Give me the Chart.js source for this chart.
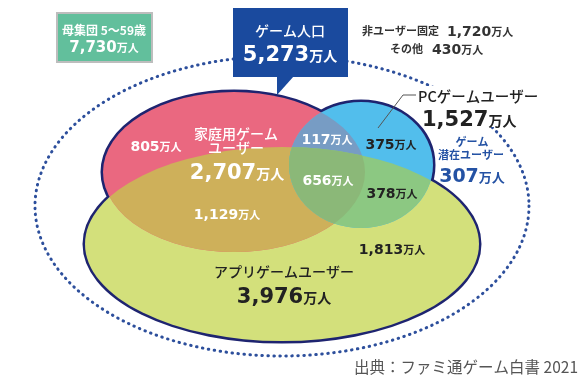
<!DOCTYPE html>
<html><head><meta charset="utf-8">
<script src="https://cdn.jsdelivr.net/npm/chart.js@4/dist/chart.umd.min.js"></script>
<style>html,body{margin:0;padding:0;background:#fff;overflow:hidden}#wrap{width:586px;height:375px}</style>
</head><body><div id="wrap"><canvas id="c" width="586" height="375"></canvas></div>
<script>
// ---- data ----
const categories = ['家庭用ゲームユーザー', 'PCゲームユーザー', 'アプリゲームユーザー'];
const setTotals = [2707, 1527, 3976];
const regionNames = ['家庭用のみ', '家庭用∩PC', 'PCのみ', '3種すべて', 'PC∩アプリ', '家庭用∩アプリ', 'アプリのみ'];
const regionValues = [805, 117, 375, 656, 378, 1129, 1813];
const populationLabel = '母集団 5～59歳';
const populationTotal = 7730;
const gamePopulationLabel = 'ゲーム人口';
const gamePopulation = 5273;
const nonUserLabels = ['非ユーザー固定', 'その他'];
const nonUserValues = [1720, 430];
const potentialLabels = ['ゲーム', '潜在ユーザー'];
const potentialValue = 307;
const unitLabel = '万人';
const sourceText = '出典：ファミ通ゲーム白書 2021';

// ---- layout (value space of hidden linear scales) ----
const L = {
  outer: {cx: 282, cy: 206, rx: 247, ry: 150},
  sets: [
    {cx: 234, cy: 172, rx: 131, ry: 80},   // home console
    {cx: 361, cy: 165, rx: 72, ry: 63},    // PC
    {cx: 282, cy: 244, rx: 197, ry: 97}    // app
  ],
  regionPos: [[156,146],[327,139],[391,144],[328,180],[392,193],[227,214],[392,249]],
  regionDark: [false,false,true,false,true,false,true]
};
const COL = {
  pink: '#EA6880', yellow: '#D3E07B', blue: '#52BEEC',
  py: '#CEB05A', pb: '#779CC4', by: '#8CC882', pby: '#8BB878',
  outline: '#1E2470', dotted: '#2D4F9C', navy: '#1A4A9E', green: '#62BF9C',
  dark: '#222222', pot: '#2452A4'
};
const NUM = '"DejaVu Sans", sans-serif';
const JP = '"Noto Sans CJK JP", "Noto Sans", sans-serif';
const fmt = v => v.toLocaleString('en-US');

const vennPlugin = {
  id: 'venn',
  afterDraw(chart) {
    const ctx = chart.ctx, xs = chart.scales.x, ys = chart.scales.y;
    const X = v => xs.getPixelForValue(v), Y = v => ys.getPixelForValue(v);
    const E = e => ({x: X(e.cx), y: Y(e.cy), rx: Math.abs(X(e.cx + e.rx) - X(e.cx)), ry: Math.abs(Y(e.cy + e.ry) - Y(e.cy))});
    const path = e => { const p = E(e); ctx.beginPath(); ctx.ellipse(p.x, p.y, p.rx, p.ry, 0, 0, Math.PI * 2); };
    const fillClip = (clips, color) => {
      ctx.save();
      for (const c of clips) { path(c); ctx.clip(); }
      ctx.fillStyle = color; ctx.fillRect(0, 0, chart.width, chart.height);
      ctx.restore();
    };
    const font = p => `${p.weight || 'normal'} ${p.size}px ${p.family || JP}`;
    const rich = (parts, x, yc, align) => {
      const w = parts.map(p => { ctx.font = font(p); return ctx.measureText(p.text).width; });
      const tot = w.reduce((a, b) => a + b, 0);
      let sx = align === 'left' ? x : align === 'right' ? x - tot : x - tot / 2;
      const main = Math.max(...parts.map(p => p.size));
      const base = yc + main * 0.365;
      ctx.textAlign = 'left'; ctx.textBaseline = 'alphabetic';
      parts.forEach((p, i) => { ctx.font = font(p); ctx.fillStyle = p.color; ctx.fillText(p.text, sx, base); sx += w[i]; });
    };
    const numU = (v, size, usize, color, x, yc, align) => rich([
      {text: fmt(v), size, weight: 'bold', family: NUM, color},
      {text: unitLabel, size: usize, weight: 'bold', family: JP, color}], X(x), Y(yc), align);
    const jp = (t, size, weight, color, x, yc, align) => {
      ctx.font = `${weight} ${size}px ${JP}`; ctx.fillStyle = color;
      ctx.textAlign = align || 'center'; ctx.textBaseline = 'middle';
      ctx.fillText(t, X(x), Y(yc));
    };

    ctx.save();
    // outer dotted ellipse
    path(L.outer);
    ctx.strokeStyle = COL.dotted; ctx.lineWidth = 3; ctx.lineCap = 'round';
    ctx.setLineDash([0.5, 5.5]); ctx.stroke(); ctx.setLineDash([]); ctx.lineCap = 'butt';
    // white backing behind PC label
    ctx.fillStyle = '#fff';
    ctx.fillRect(X(420), Y(86), X(522) - X(420), Y(127) - Y(86));

    // union outline (half covered by fills)
    ctx.strokeStyle = COL.outline; ctx.lineWidth = 5;
    L.sets.forEach(s => { path(s); ctx.stroke(); });
    const [P, B, A] = L.sets;
    fillClip([A], COL.yellow);
    fillClip([P], COL.pink);
    fillClip([P, A], COL.py);
    fillClip([B], COL.blue);
    fillClip([B, P], COL.pb);
    fillClip([B, A], COL.by);
    fillClip([B, P, A], COL.pby);

    // population box
    ctx.fillStyle = COL.green; ctx.fillRect(X(57), Y(13), X(152) - X(57), Y(62) - Y(13));
    ctx.strokeStyle = '#BDBDBD'; ctx.lineWidth = 2; ctx.strokeRect(X(57), Y(13), X(152) - X(57), Y(62) - Y(13));
    jp(populationLabel, 12, 'bold', '#fff', 104, 30);
    numU(populationTotal, 15, 11, '#fff', 104, 47);

    // game population callout
    ctx.fillStyle = COL.navy;
    ctx.fillRect(X(233), Y(8), X(348) - X(233), Y(77) - Y(8));
    ctx.beginPath(); ctx.moveTo(X(277), Y(76)); ctx.lineTo(X(294), Y(76)); ctx.lineTo(X(277), Y(95)); ctx.closePath(); ctx.fill();
    jp(gamePopulationLabel, 14, '500', '#fff', 290, 31);
    numU(gamePopulation, 21, 14, '#fff', 290, 53);

    // non users
    jp(nonUserLabels[0], 11, 'bold', '#333', 362, 31, 'left');
    numU(nonUserValues[0], 14, 11, '#333', 447, 31, 'left');
    jp(nonUserLabels[1], 11, 'bold', '#333', 390, 49, 'left');
    numU(nonUserValues[1], 14, 11, '#333', 432, 49, 'left');

    // PC label + leader
    ctx.strokeStyle = '#555'; ctx.lineWidth = 1;
    ctx.beginPath(); ctx.moveTo(X(378), Y(128)); ctx.lineTo(X(403), Y(95)); ctx.lineTo(X(416), Y(95)); ctx.stroke();
    jp(categories[1], 14.5, '500', COL.dark, 418, 96, 'left');
    numU(setTotals[1], 21, 14, COL.dark, 422, 118, 'left');

    // potential users
    jp(potentialLabels[0], 11, 'bold', COL.pot, 472, 142);
    jp(potentialLabels[1], 11, 'bold', COL.pot, 471, 155);
    numU(potentialValue, 19, 13, COL.pot, 472, 175);

    // home console label
    jp('家庭用ゲーム', 14, '500', '#fff', 236, 134);
    jp('ユーザー', 14, '500', '#fff', 236, 148);
    numU(setTotals[0], 21, 14, '#fff', 237, 171);

    // app label
    jp(categories[2], 14, '500', COL.dark, 284, 272);
    numU(setTotals[2], 21, 14, COL.dark, 284, 295);

    // region values
    regionValues.forEach((v, i) => {
      const [x, y] = L.regionPos[i];
      numU(v, 14, 11, L.regionDark[i] ? COL.dark : '#fff', x, y);
    });

    // source
    jp(sourceText, 15.5, 'normal', '#555', 578, 367, 'right');
    ctx.restore();
  }
};

new Chart(document.getElementById('c'), {
  type: 'scatter',
  data: {datasets: [{data: [], pointRadius: 0}]},
  options: {
    responsive: false, animation: false, devicePixelRatio: 1,
    layout: {padding: 0},
    plugins: {legend: {display: false}, tooltip: {enabled: false}, title: {display: false}},
    scales: {
      x: {type: 'linear', min: 0, max: 586, display: false},
      y: {type: 'linear', min: 0, max: 375, reverse: true, display: false}
    }
  },
  plugins: [vennPlugin]
});
</script></body></html>
